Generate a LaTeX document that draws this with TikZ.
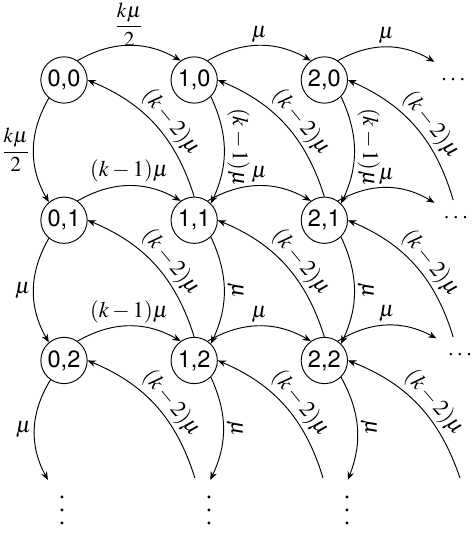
\documentclass[tikz,border=0pt]{standalone}
\usepackage{amsmath}
\usepackage{mathptmx}
\usepackage[no-math]{fontspec}
\setmainfont{Liberation Serif}
\setsansfont{TeX Gyre Heros}
\usetikzlibrary{arrows.meta}

\newcommand{\vdotsx}{\vbox{\baselineskip5.5pt\lineskiplimit0pt\hbox{.}\hbox{.}\hbox{.}}}

\tikzset{
  state/.style={circle, draw, minimum size=0.69cm, inner sep=0pt, font=\sffamily},
  tr/.style={-{Stealth[length=3.5pt,width=2.8pt]}},
  lab/.style={font=\fontsize{9.5}{11}\selectfont, inner sep=1.2pt},
  flab/.style={font=\small, inner sep=0pt},
  vlab/.style={lab, rotate=-90, anchor=south},
  dlab/.style={lab, sloped, above, pos=0.45, inner sep=0.8pt},
}

\begin{document}
\begin{tikzpicture}
\def\dx{1.94}   % column step
\def\dy{2.09}   % row step
\useasboundingbox (-0.954,-6.781) rectangle (6.080,1.192);

% states (i,j)
\foreach \i in {0,1,2}
  \foreach \j in {0,1,2}
    \node[state] (n\i\j) at (\i*\dx,-\j*\dy) {\i,\j};

% open ends
\coordinate (r0) at (5.52,0.27);
\coordinate (r1) at (5.52,-1.83);
\coordinate (r2) at (5.55,-3.85);
\coordinate (b0) at (-0.24,-5.96);
\coordinate (b1) at (2.18,-5.96);
\coordinate (b2) at (4.23,-5.96);
\coordinate (s0) at (5.80,-1.79);
\coordinate (s1) at (5.80,-3.83);
\coordinate (s2) at (5.90,-5.93);
\coordinate (s3) at (1.95,-5.93);
\coordinate (s4) at (3.86,-5.93);

% continuation dots
\node (h0) at (5.82,0.0)   {$\cdots$};
\node (h1) at (5.86,-2.06) {$\cdots$};
\node (h2) at (5.92,-4.10) {$\cdots$};
\node (v0) at (-0.03,-6.41) {\vdotsx};
\node (v1) at (2.16,-6.41)  {\vdotsx};
\node (v2) at (4.22,-6.41)  {\vdotsx};

% ---- rightward ----
\draw[tr] (n00.55) to[bend left=30] node[flab,above,yshift=-0.5pt] {$\dfrac{k\mu}{2}$} (n10.125);
\foreach \j in {1,2}
  \draw[tr] (n0\j.55) to[bend left=30] node[lab,above] {$(k-1)\mu$} (n1\j.125);
\foreach \j in {0,1,2}{
  \draw[tr] (n1\j.55) to[bend left=30] node[lab,above] {$\mu$} (n2\j.125);
  \draw[tr] (n2\j.55) to[bend left=30] node[lab,above] {$\mu$} (r\j);
}

% ---- downward ----
\draw[tr] (n00.230) to[bend right=30] node[flab,left,xshift=-1pt] {$\dfrac{k\mu}{2}$} (n01.130);
\draw[tr] (n01.230) to[bend right=30] node[lab,left] {$\mu$} (n02.130);
\draw[tr] (n02.235) to[bend right=30] node[lab,left] {$\mu$} (b0);
\foreach \i in {1,2}{
  \draw[tr] (n\i0.315) to[bend left=25] node[vlab,pos=0.47] {$(k-1)\mu$} (n\i1.45);
  \draw[tr] (n\i1.315) to[bend left=25] node[vlab] {$\mu$} (n\i2.45);
  \draw[tr] (n\i2.315) to[bend left=25] node[vlab] {$\mu$} (b\i);
}

% ---- diagonal back ----
\foreach \s/\t in {n11/n00,n21/n10,n12/n01,n22/n11}
  \draw[tr] (\s.north) to[bend right=25] node[dlab] {$(k-2)\mu$} (\t.east);
\foreach \s/\t in {s0/n20,s1/n21,s2/n22,s3/n02,s4/n12}
  \draw[tr] (\s) to[bend right=25] node[dlab] {$(k-2)\mu$} (\t.east);
\end{tikzpicture}
\end{document}
